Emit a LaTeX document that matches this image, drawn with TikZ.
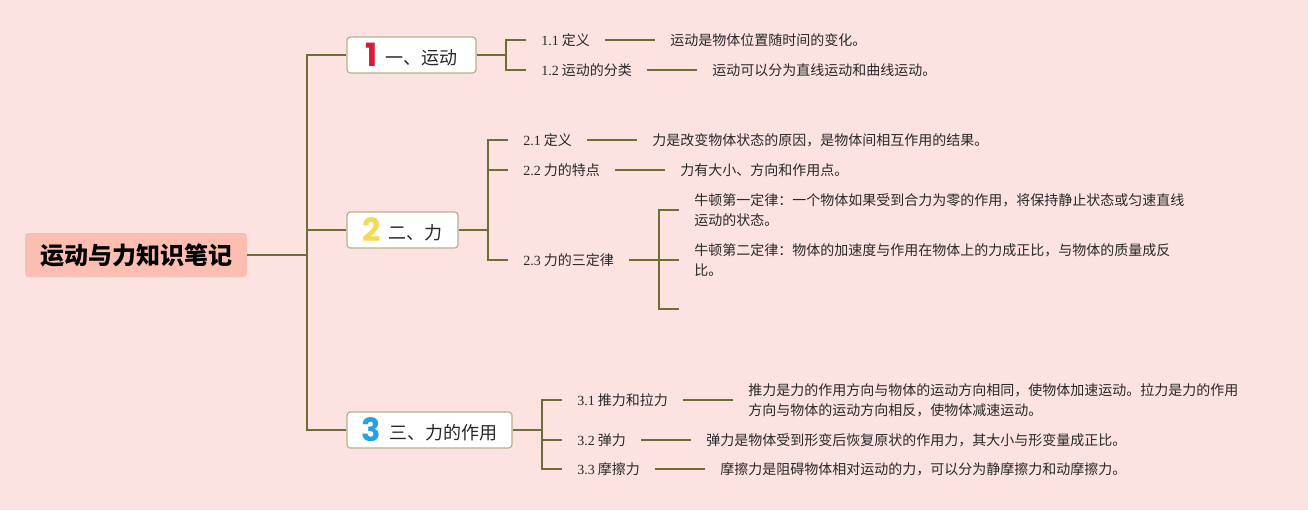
\documentclass[tikz,border=0pt]{standalone}
\usepackage{fontspec}
\setmainfont{Noto Sans CJK SC}
\newfontfamily\serifnum{Liberation Serif}
\newfontfamily\digitfont{Poppins}
\usetikzlibrary{positioning}
\definecolor{bgpink}{RGB}{253,226,226}
\definecolor{linkolive}{RGB}{110,110,50}
\definecolor{boxline}{RGB}{180,178,140}
\definecolor{rootfill}{RGB}{251,190,176}
\definecolor{textgray}{RGB}{40,40,40}
\definecolor{numred}{RGB}{216,27,55}
\definecolor{numyellow}{RGB}{245,217,80}
\definecolor{numblue}{RGB}{40,160,220}
\newcommand\secno[1]{{\serifnum #1}}
\newcommand\bignum[2]{\raisebox{-2pt}{\digitfont\bfseries\fontsize{24}{24}\selectfont\color{#1}#2}\hspace{6pt}}
\begin{document}
\begin{tikzpicture}[x=0.75pt,y=-0.75pt,
  link/.style={draw=linkolive,line width=1.5pt},
  root/.style={fill=rootfill,rounded corners=2.5pt,minimum width=166.5pt,minimum height=33pt,inner sep=0pt,font=\bfseries\fontsize{18}{20}\selectfont},
  topic/.style={draw=boxline,fill=white,line width=0.9pt,rounded corners=2.5pt,minimum height=27pt,inner sep=0pt,text=textgray,font=\fontsize{13.5}{16}\selectfont},
  subitem/.style={inner xsep=11.25pt,inner ysep=1pt,text=textgray,font=\fontsize{10.5}{15}\selectfont},
  detail/.style={subitem,align=left}]
\fill[bgpink] (0,0) rectangle (1308,510);
\node[root] (root) at (136,255) {运动与力知识笔记};
\coordinate (trunk) at (307,255);
\node[topic,minimum width=96.75pt] (t1) at (411.5,55) {\bignum{numred}{1}一、运动};
\node[topic,minimum width=83.25pt] (t2) at (402.5,230) {\bignum{numyellow}{2}二、力};
\node[topic,minimum width=123.75pt] (t3) at (429.5,430) {\bignum{numblue}{3}三、力的作用};
\draw[link] (root.east) -- (trunk);
\foreach \t in {t1,t2,t3}
\draw[link] (trunk) |- (\t.west);

\node[subitem,anchor=west] (l11) at (526,40) {\secno{1.1} 定义};
\node[subitem,anchor=west] (l12) at (526,70) {\secno{1.2} 运动的分类};
\node[detail,right=37.5pt of l11] (d11) {运动是物体位置随时间的变化。};
\node[detail,right=37.5pt of l12] (d12) {运动可以分为直线运动和曲线运动。};
\coordinate (f1) at (506,55);
\draw[link] (t1.east) -- (f1);
\foreach \s in {l11,l12}
\draw[link] (f1) |- (\s.west);
\foreach \s in {1,2}
\draw[link] (l1\s.east) -- (d1\s.west);

\node[subitem,anchor=west] (l21) at (508,140) {\secno{2.1} 定义};
\node[subitem,anchor=west] (l22) at (508,170) {\secno{2.2} 力的特点};
\node[subitem,anchor=west] (l23) at (508,260) {\secno{2.3} 力的三定律};
\node[detail,right=37.5pt of l21] (d21) {力是改变物体状态的原因，是物体间相互作用的结果。};
\node[detail,right=37.5pt of l22] (d22) {力有大小、方向和作用点。};
\coordinate (f2) at (488,230);
\draw[link] (t2.east) -- (f2);
\foreach \s in {l21,l22,l23}
\draw[link] (f2) |- (\s.west);
\foreach \s in {1,2}
\draw[link] (l2\s.east) -- (d2\s.west);

\node[detail,anchor=west] (n1) at (679,210) {牛顿第一定律：一个物体如果受到合力为零的作用，将保持静止状态或匀速直线\\运动的状态。};
\node[detail,anchor=west] (n2) at (679,260) {牛顿第二定律：物体的加速度与作用在物体上的力成正比，与物体的质量成反\\比。};
\coordinate (n3) at (679,309);
\coordinate (f23) at (659,260);
\draw[link] (l23.east) -- (n2.west);
\draw[link] (n1.west) -| (f23 |- n3) -- (n3);

\node[subitem,anchor=west] (l31) at (562,400) {\secno{3.1} 推力和拉力};
\node[subitem,anchor=west] (l32) at (562,440) {\secno{3.2} 弹力};
\node[subitem,anchor=west] (l33) at (562,469) {\secno{3.3} 摩擦力};
\node[detail,right=37.5pt of l31] (d31) {推力是力的作用方向与物体的运动方向相同，使物体加速运动。拉力是力的作用\\方向与物体的运动方向相反，使物体减速运动。};
\node[detail,right=37.5pt of l32] (d32) {弹力是物体受到形变后恢复原状的作用力，其大小与形变量成正比。};
\node[detail,right=37.5pt of l33] (d33) {摩擦力是阻碍物体相对运动的力，可以分为静摩擦力和动摩擦力。};
\coordinate (f3) at (542,430);
\draw[link] (t3.east) -- (f3);
\foreach \s in {l31,l32,l33}
\draw[link] (f3) |- (\s.west);
\foreach \s in {1,2,3}
\draw[link] (l3\s.east) -- (d3\s.west);
\end{tikzpicture}
\end{document}
